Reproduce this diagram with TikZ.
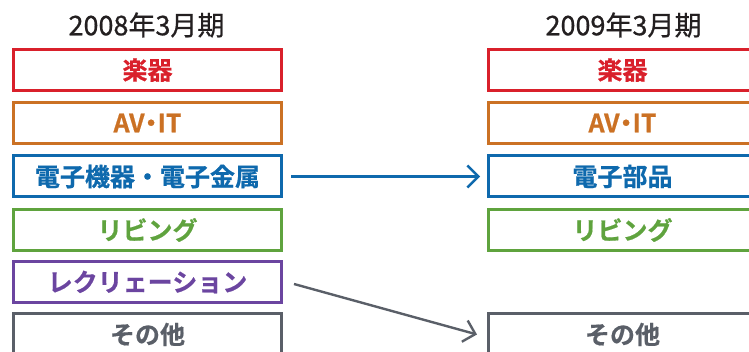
\documentclass[tikz,border=0pt]{standalone}
\usepackage{fontspec}
\newfontfamily\jp{Noto Sans CJK JP}[FakeBold=0.8]
\newfontfamily\jpb{Noto Sans CJK JP Bold}[FakeBold=0.6]
\usetikzlibrary{arrows.meta}
\definecolor{cred}{HTML}{D9202B}
\definecolor{corange}{HTML}{CB7124}
\definecolor{cblue}{HTML}{0E69AD}
\definecolor{cgreen}{HTML}{5FA33E}
\definecolor{cpurple}{HTML}{6B45A0}
\definecolor{cgray}{HTML}{5A5F68}
\definecolor{ctitle}{HTML}{231F20}
\newcommand{\avit}{AV\kern-6pt・\kern-6pt IT}
\tikzset{
  seg/.style={draw=#1, text=#1, line width=3pt, minimum width=268pt, minimum height=41pt,
    inner sep=0pt, font=\jpb\fontsize{25pt}{28pt}\selectfont},
  ttl/.style={text=ctitle, inner sep=0pt, font=\jp\fontsize{27pt}{30pt}\selectfont},
  arr/.style={draw=#1, line width=2.4pt, -{Straight Barb[length=11pt,width=22pt,line width=2.4pt]}},
}
\begin{document}
\begin{tikzpicture}[x=1pt,y=1pt]
\useasboundingbox (0,0) rectangle (749,352);
\node[ttl] (t1) at (146.5,327) {2008年3月期};
\node[ttl] (t2) at (623.5,327) {2009年3月期};
\node[seg=cred]    (L1) at (147.5,282) {楽器};
\node[seg=corange] (L2) at (147.5,229) {\avit};
\node[seg=cblue]   (L3) at (147.5,175.5) {電子機器・電子金属};
\node[seg=cgreen]  (L4) at (147.5,122) {リビング};
\node[seg=cpurple] (L5) at (147.5,70) {レクリェーション};
\node[seg=cgray]   (L6) at (147.5,17.5) {その他};
\node[seg=cred]    (R1) at (622.5,282) {楽器};
\node[seg=corange] (R2) at (622.5,229) {\avit};
\node[seg=cblue]   (R3) at (622.5,175.5) {電子部品};
\node[seg=cgreen]  (R4) at (622.5,122) {リビング};
\node[seg=cgray]   (R6) at (622.5,17.5) {その他};
\draw[arr=cblue] ([xshift=8pt]L3.east) -- ([xshift=-7pt]R3.west);
\draw[arr=cgray] ([shift={(11pt,-2pt)}]L5.east) -- ([xshift=-10pt]R6.west);
\end{tikzpicture}
\end{document}
